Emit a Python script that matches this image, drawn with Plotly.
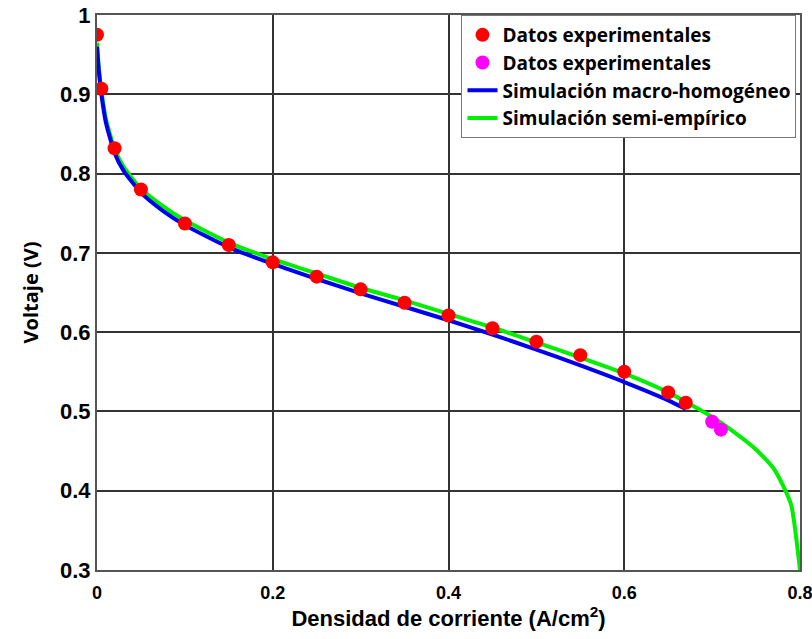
import plotly.graph_objects as go

# Measured polarization data (current density in A/cm^2, voltage in V)
exp_j = [0.0, 0.005, 0.02, 0.05, 0.10, 0.15, 0.20, 0.25, 0.30, 0.35, 0.40,
         0.45, 0.50, 0.55, 0.60, 0.65, 0.67]
exp_v = [0.975, 0.907, 0.832, 0.780, 0.737, 0.710, 0.688, 0.670, 0.654, 0.637,
         0.621, 0.605, 0.588, 0.571, 0.550, 0.524, 0.511]

exp2_j = [0.70, 0.71]
exp2_v = [0.487, 0.477]

# Macro-homogeneous model curve
macro_j = [0.0, 0.002, 0.005, 0.01, 0.02, 0.03, 0.05, 0.075, 0.10, 0.15, 0.20,
           0.25, 0.30, 0.35, 0.40, 0.45, 0.50, 0.55, 0.60, 0.65, 0.67]
macro_v = [0.960, 0.930, 0.900, 0.865, 0.826, 0.804, 0.776, 0.753, 0.735, 0.707,
           0.686, 0.667, 0.649, 0.632, 0.615, 0.597, 0.578, 0.558, 0.537, 0.514, 0.503]

# Semi-empirical model curve
semi_j = [0.0, 0.002, 0.005, 0.01, 0.02, 0.03, 0.05, 0.075, 0.10, 0.15, 0.20,
          0.25, 0.30, 0.35, 0.40, 0.45, 0.50, 0.55, 0.60, 0.65, 0.70, 0.72,
          0.75, 0.77, 0.78, 0.79, 0.80]
semi_v = [0.965, 0.935, 0.905, 0.870, 0.831, 0.809, 0.781, 0.759, 0.741, 0.713,
          0.692, 0.674, 0.656, 0.640, 0.623, 0.606, 0.587, 0.568, 0.548, 0.524,
          0.493, 0.478, 0.452, 0.428, 0.408, 0.382, 0.300]

x_ticks = [0, 0.2, 0.4, 0.6, 0.8]
x_labels = ["0", "0.2", "0.4", "0.6", "0.8"]
y_ticks = [0.3, 0.4, 0.5, 0.6, 0.7, 0.8, 0.9, 1.0]
y_labels = ["0.3", "0.4", "0.5", "0.6", "0.7", "0.8", "0.9", "1"]

label_font = "Liberation Sans, Arial, sans-serif"
legend_font = "Open Sans, Noto Sans, sans-serif"

fig = go.Figure()

fig.add_trace(go.Scatter(
    x=semi_j, y=semi_v, mode="lines", name="Simulación semi-empírico",
    line=dict(color="#00ee00", width=4, shape="spline", smoothing=0.6),
    legendrank=4,
))
fig.add_trace(go.Scatter(
    x=macro_j, y=macro_v, mode="lines", name="Simulación macro-homogéneo",
    line=dict(color="#0000ee", width=4, shape="spline", smoothing=0.6),
    legendrank=3,
))
fig.add_trace(go.Scatter(
    x=exp_j, y=exp_v, mode="markers", name="Datos experimentales",
    marker=dict(color="#ff0000", size=14),
    legendrank=1,
))
fig.add_trace(go.Scatter(
    x=exp2_j, y=exp2_v, mode="markers", name="Datos experimentales",
    marker=dict(color="#ff00ff", size=14),
    legendrank=2,
))

axis_common = dict(
    showgrid=True, gridcolor="#333333", gridwidth=2,
    showline=True, linecolor="#555555", linewidth=2, mirror=True,
    zeroline=False, ticks="", automargin=False, ticklabeloverflow="allow",
)

fig.update_xaxes(
    range=[0, 0.8], tickvals=x_ticks,
    ticktext=[f"<b>{t}</b>" for t in x_labels],
    tickfont=dict(family=label_font, size=18, color="#000000"),
    ticklabelstandoff=5,
    title=dict(text="<b>Densidad de corriente (A/cm<sup>2</sup>)</b>",
               font=dict(family=label_font, size=22, color="#000000"),
               standoff=8),
    **axis_common,
)
fig.update_yaxes(
    range=[0.3, 1.0], tickvals=y_ticks,
    ticktext=[f"<b>{t}</b>" for t in y_labels],
    tickfont=dict(family=label_font, size=22, color="#000000"),
    title=dict(text="<b>Voltaje (V)</b>",
               font=dict(family=legend_font, size=20, color="#000000"),
               standoff=16),
    **axis_common,
)

fig.update_layout(
    width=812, height=639,
    margin=dict(l=97, r=12, t=15, b=69),
    paper_bgcolor="white", plot_bgcolor="white",
    font=dict(family=label_font),
    legend=dict(
        x=0.995, y=1.0, xanchor="right", yanchor="top",
        bgcolor="white", bordercolor="#777777", borderwidth=1,
        font=dict(family=legend_font, size=19, color="#000000", weight="bold"),
        itemwidth=30, tracegroupgap=0,
    ),
)

fig.write_html("out.html")
